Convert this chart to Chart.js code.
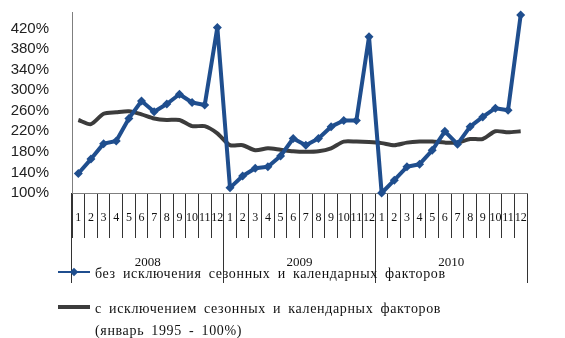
<!DOCTYPE html>
<html>
<head>
<meta charset="utf-8">
<script src="https://cdn.jsdelivr.net/npm/chart.js@4.4.1/dist/chart.umd.min.js"></script>
<style>
  html, body { margin: 0; padding: 0; background: #fff; }
  #wrap { position: relative; width: 565px; height: 338px; overflow: hidden; }
  canvas { position: absolute; left: 0; top: 0; }
  #legend { position: absolute; left: 58px; top: 262px; font-family: "Liberation Serif", "DejaVu Serif", serif; font-size: 14px; color: #111; }
  .item { position: absolute; left: 0; white-space: nowrap; }
  .sample { position: absolute; left: 0; width: 32px; }
  .txt { position: absolute; left: 37px; line-height: 22px; word-spacing: 3px; letter-spacing: 0.65px; }
  .diamond { position: absolute; left: 13px; top: -2.5px; width: 6px; height: 6px; transform: rotate(45deg); }
</style>
</head>
<body>
<div id="wrap">
  <canvas id="c" width="565" height="338"></canvas>
  <div id="legend"></div>
</div>
<script>
const months = ['1','2','3','4','5','6','7','8','9','10','11','12',
                '1','2','3','4','5','6','7','8','9','10','11','12',
                '1','2','3','4','5','6','7','8','9','10','11','12'];
const years = ['2008', '2009', '2010'];
const yTickValues = [100, 140, 180, 220, 260, 300, 340, 380, 420];

const seriesNames = [
  'без исключения сезонных и календарных факторов',
  'с исключением сезонных и календарных факторов (январь 1995 - 100%)'
];

// без исключения сезонных и календарных факторов
const rawValues = [
  138, 166, 196, 201, 245, 279, 258, 273, 292, 276, 271, 422,
  110, 133, 148, 151, 172, 206, 193, 206, 229, 241, 241, 404,
  100, 125, 151, 156, 183, 220, 195, 229, 248, 265, 261, 446
];
// с исключением сезонных и календарных факторов
const adjValues = [
  242, 234, 254, 257, 259, 253, 245, 242, 242, 230, 230, 216,
  193, 193, 183, 187, 184, 181, 180, 181, 187, 200, 200, 199,
  197, 193, 198, 200, 200, 198, 198, 205, 205, 220, 218, 220
];

const BLUE = '#1f4e8e';
const DARK = '#3c3c3c';
const AXIS = '#7f7f7f';
const Y_MIN = 100;
const Y_MAX = 452;

const chart = new Chart(document.getElementById('c'), {
  type: 'line',
  data: {
    labels: months,
    datasets: [
      {
        label: seriesNames[0],
        data: rawValues,
        borderColor: BLUE,
        backgroundColor: BLUE,
        borderWidth: 4,
        borderJoinStyle: 'round',
        pointStyle: 'rectRot',
        pointRadius: 4.5,
        pointBorderWidth: 0,
        tension: 0,
        clip: false,
        order: 1
      },
      {
        label: seriesNames[1],
        data: adjValues,
        borderColor: DARK,
        backgroundColor: DARK,
        borderWidth: 4,
        borderJoinStyle: 'round',
        pointRadius: 0,
        tension: 0.25,
        clip: false,
        order: 2
      }
    ]
  },
  options: {
    responsive: false,
    animation: false,
    devicePixelRatio: 1,
    layout: { padding: { top: 12, left: 8, right: 38, bottom: 145 } },
    plugins: { legend: { display: false }, tooltip: { enabled: false } },
    scales: {
      x: {
        type: 'category',
        position: { y: Y_MIN },
        offset: true,
        grid: { offset: true, drawOnChartArea: false, tickLength: 44, color: '#333', lineWidth: 1 },
        border: { display: true, color: AXIS, width: 1 },
        ticks: {
          autoSkip: false, maxRotation: 0, minRotation: 0, padding: -26,
          color: '#111',
          font: { family: '"Liberation Serif", serif', size: 12 }
        }
      },
      x2: {
        type: 'category',
        position: { y: Y_MIN },
        labels: years,
        offset: true,
        grid: { offset: true, drawOnChartArea: false, tickLength: 90, color: '#333', lineWidth: 1 },
        border: { display: false },
        ticks: {
          autoSkip: false, maxRotation: 0, minRotation: 0, padding: -28,
          color: '#111',
          font: { family: '"Liberation Serif", serif', size: 13 }
        }
      },
      y: {
        min: Y_MIN,
        max: Y_MAX,
        grid: { display: false },
        border: { display: true, color: AXIS, width: 1 },
        afterBuildTicks: (scale) => { scale.ticks = yTickValues.map(v => ({ value: v })); },
        afterFit: (scale) => { scale.width = 64; scale.paddingTop = 0; scale.paddingBottom = 0; },
        ticks: {
          padding: 15,
          color: '#222',
          font: { family: '"Liberation Sans", Arial, sans-serif', size: 15 },
          callback: (v) => v + '%'
        }
      }
    }
  }
});

// HTML legend built from the chart's datasets
(function buildLegend() {
  const leg = document.getElementById('legend');
  const tops = [10, 45];
  chart.data.datasets.forEach((ds, i) => {
    const item = document.createElement('div');
    item.className = 'item';
    item.style.top = tops[i] + 'px';
    const s = document.createElement('div');
    s.className = 'sample';
    s.style.background = ds.borderColor;
    s.style.top = (i === 0 ? -1 : -2) + 'px';
    s.style.height = (i === 0 ? 2 : 4) + 'px';
    if (i === 0) {
      const d = document.createElement('div');
      d.className = 'diamond';
      d.style.background = ds.borderColor;
      s.appendChild(d);
    }
    item.appendChild(s);
    const t = document.createElement('div');
    t.className = 'txt';
    t.style.top = '-9px';
    if (i === 1) {
      const parts = ds.label.split(' (');
      t.appendChild(document.createTextNode(parts[0]));
      t.appendChild(document.createElement('br'));
      t.appendChild(document.createTextNode('(' + parts[1]));
    } else {
      t.textContent = ds.label;
    }
    item.appendChild(t);
    leg.appendChild(item);
  });
})();
</script>
</body>
</html>
